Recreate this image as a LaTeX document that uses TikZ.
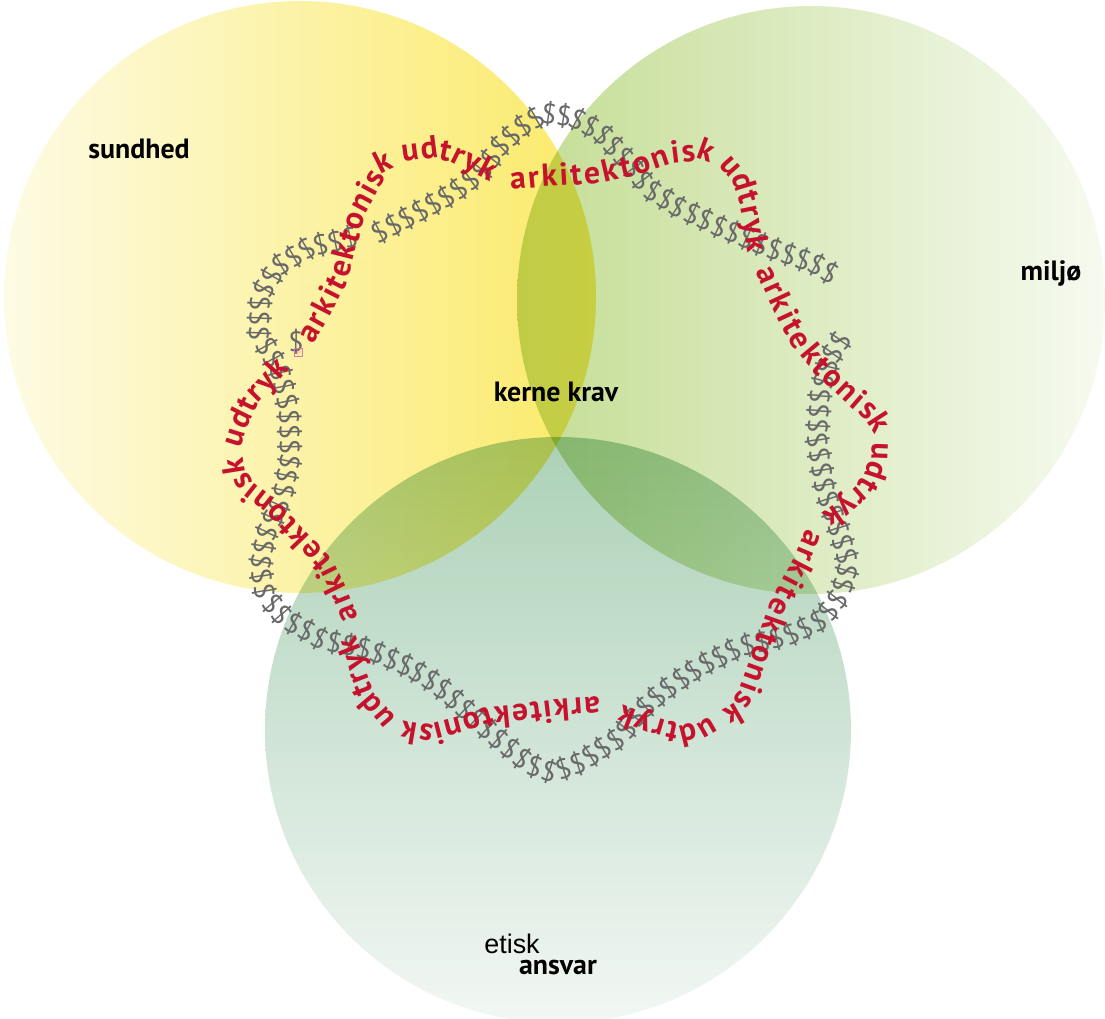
\documentclass[tikz,border=0pt]{standalone}
\usepackage{fontspec}
\usetikzlibrary{decorations.text,decorations.markings}
\newfontfamily\ptsans{PT Sans}
\newfontfamily\liberation{Liberation Sans}
\definecolor{arkred}{RGB}{198,18,45}
\definecolor{dollargray}{RGB}{105,105,105}
\definecolor{ylwA}{RGB}{253,251,228}
\definecolor{ylwB}{RGB}{251,234,105}
\definecolor{grnA}{RGB}{196,221,148}
\definecolor{grnB}{RGB}{246,250,240}
\definecolor{tealA}{RGB}{172,209,183}
\definecolor{tealB}{RGB}{242,247,244}
\definecolor{ovrpink}{RGB}{220,120,170}
\begin{document}
\begin{tikzpicture}[x=0.5bp,y=-0.5bp,line cap=round,line join=round,
	lbl/.style={font=\ptsans\bfseries\fontsize{14}{16}\selectfont},
	ring/.style={decorate,decoration={text along path,text={|\ptsans\bfseries\fontsize{16}{18}\selectfont|arkitektonisk udtryk},text color=arkred,text align={fit to path},raise=-4pt}},
	dollar/.style={transform shape,inner sep=0pt,text=dollargray,font=\ptsans\fontsize{14}{16}\selectfont},
	dollars/.style={decorate,decoration={markings,mark=between positions 0 and 1 step 7.5bp with {\node[dollar]{\$};}}}]
				\useasboundingbox (0,0) rectangle (1105,1019);
				\shade[blend mode=multiply,left color=ylwA,right color=ylwB] (300,297) circle[radius=296];
				\shade[blend mode=multiply,left color=grnA,right color=grnB] (811,300) circle[radius=294];
				\shade[blend mode=multiply,top color=tealA,bottom color=tealB] (558,730) circle[radius=293];
				\path[dollars] (380,232) -- (417,213) -- (453,193) -- (480,173) -- (500,147) -- (520,128) -- (545,113) -- (573,117) -- (600,132) -- (625,158) -- (647,187) -- (680,208) -- (720,227) -- (767,247) -- (813,263) -- (842,280);
				\path[dollars] (350,238) -- (310,247) -- (277,267) -- (260,297) -- (259,333) -- (280,370) -- (289,410) -- (290,460) -- (282,500) -- (266,535) -- (260,567) -- (265,595) -- (287,620) -- (323,640) -- (370,650) -- (410,667) -- (445,690) -- (475,718) -- (503,743) -- (530,765) -- (552,772) -- (580,763) -- (620,738) -- (640,712) -- (665,690) -- (700,667) -- (740,647) -- (787,636) -- (822,620) -- (840,597) -- (849,567) -- (840,533) -- (825,490) -- (817,440) -- (820,395) -- (830,357) -- (845,335);
				\node[dollar] (lonedollar) at (296,342) {\$};
				\node[draw=ovrpink,line width=0.3pt,inner sep=0pt,minimum size=4bp,text=ovrpink,font=\fontsize{4}{4}\selectfont] (overset) at (298,352) {+};
				\path[ring] (307,341) -- (323,313) -- (340,280) -- (350,240) -- (360,207) -- (383,165) -- (407,153) -- (430,150) -- (455,155) -- (475,165) -- (494,175);
				\path[ring] (510,182) -- (540,179) -- (575,177) -- (607,174) -- (637,167) -- (670,156) -- (703,152) -- (725,160) -- (740,177) -- (747,200) -- (752,225) -- (756,252);
				\path[ring] (763,268) -- (773,290) -- (787,320) -- (800,343) -- (820,367) -- (847,393) -- (870,413) -- (881,430) -- (880,452) -- (873,473) -- (862,492) -- (845,507) -- (826,520);
				\path[ring] (814,532) -- (803,558) -- (788,587) -- (775,612) -- (765,640) -- (755,670) -- (746,695) -- (733,713) -- (707,728) -- (687,733) -- (665,728) -- (645,722) -- (620,712);
				\path[ring] (600,704) -- (561,707) -- (520,712) -- (490,715) -- (455,726) -- (428,733) -- (405,729) -- (385,718) -- (368,698) -- (358,672) -- (352,648) -- (348,638);
				\path[ring] (351,620) -- (340,593) -- (327,567) -- (310,547) -- (287,523) -- (267,503) -- (247,487) -- (237,470) -- (233,445) -- (240,423) -- (253,397) -- (267,383) -- (284,364);
				\node[lbl] (sundhed) at (139,149) {sundhed};
				\node[lbl] (miljo) at (1051,273) {miljø};
				\node[lbl] (kerne) at (556,392) {kerne krav};
				\node[font=\liberation\fontsize{13.5}{16}\selectfont] (etisk) at (512,944) {etisk};
				\node[lbl] (ansvar) at (558,968) {ansvar};
\end{tikzpicture}
\end{document}
